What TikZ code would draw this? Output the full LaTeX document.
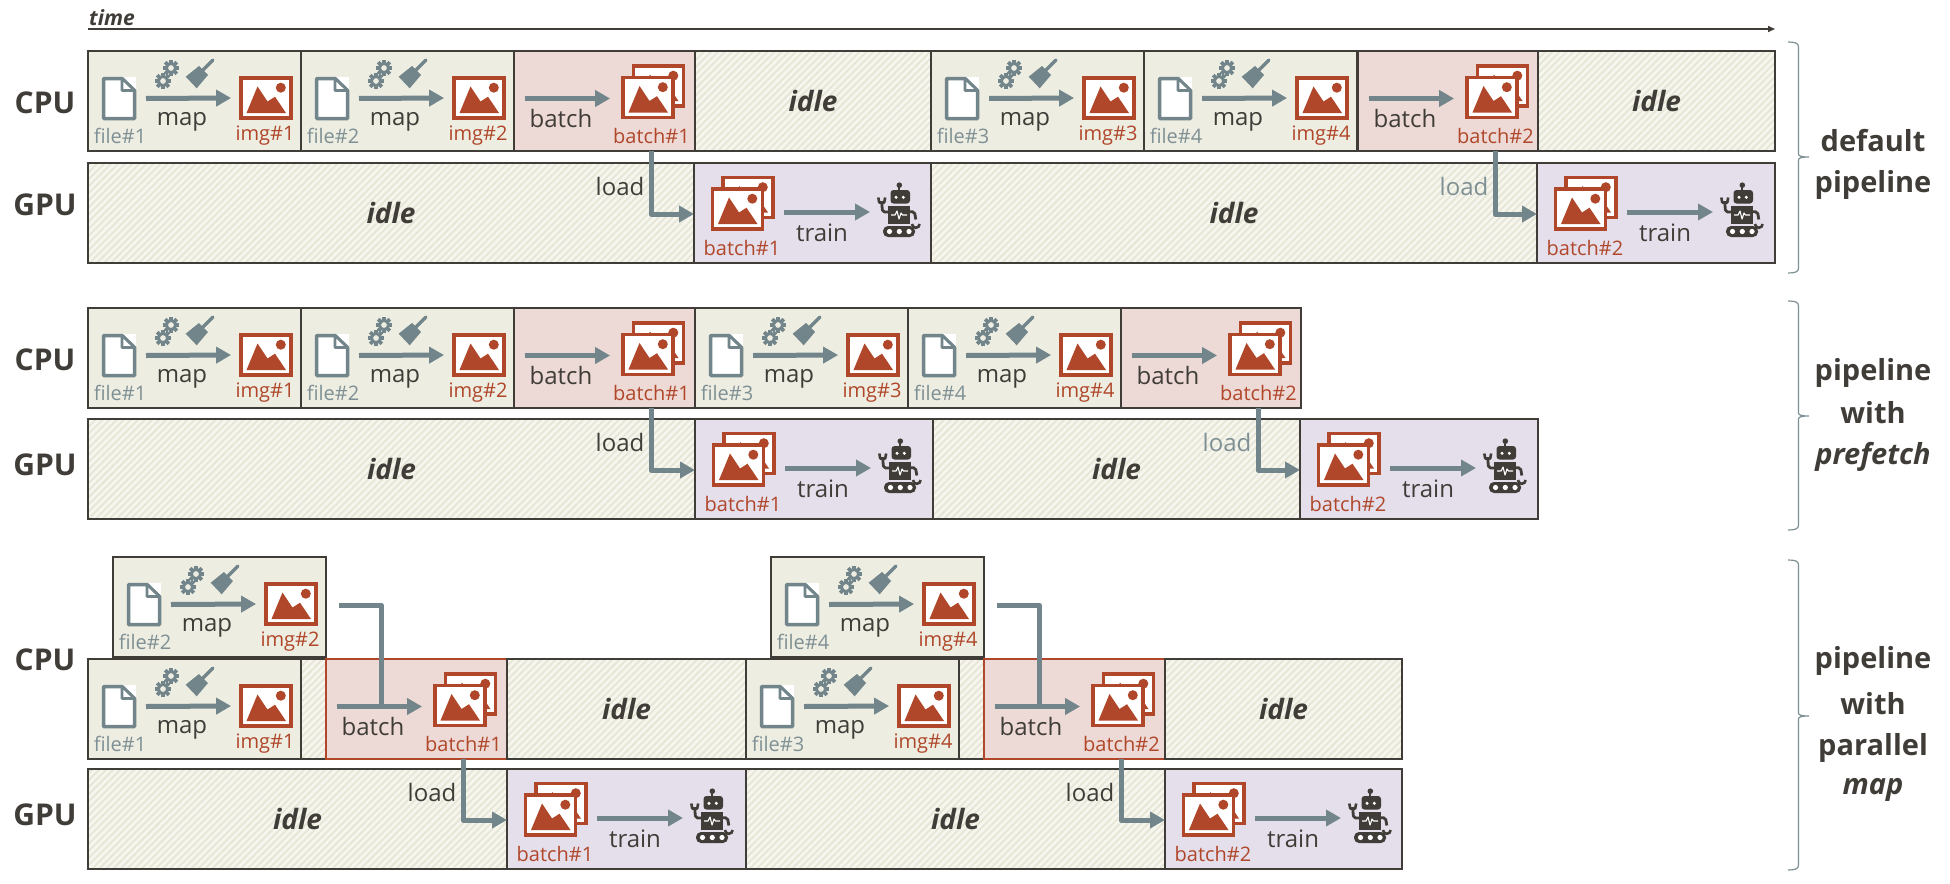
\documentclass[tikz,border=0pt]{standalone}
\usepackage{fontspec}
\setmainfont{Open Sans}
\usetikzlibrary{arrows.meta,patterns.meta,calc}
\definecolor{ink}{HTML}{403D38}
\definecolor{slate}{HTML}{71858A}
\definecolor{slatetxt}{HTML}{7F9094}
\definecolor{rust}{HTML}{B0472A}
\definecolor{mapfill}{HTML}{EDEDE2}
\definecolor{batchfill}{HTML}{EDD9D5}
\definecolor{gpufill}{HTML}{E4DFEB}
\definecolor{idlefill}{HTML}{F6F6EE}
\definecolor{idleline}{HTML}{E6E6D6}
\newcommand{\px}[1]{\fontsize{#1}{#1}\selectfont}
\newcommand{\bedge}{ink}
\tikzset{
  cellbase/.style={rectangle,draw=ink,line width=2pt,inner sep=0pt,outer sep=0pt,anchor=north west,minimum height=#1},
  cellbase/.default=100pt,
  mapcell/.style={cellbase,fill=mapfill},
  batchcell/.style={cellbase,fill=batchfill,draw=\bedge},
  gpucell/.style={cellbase,fill=gpufill},
  idlecell/.style={cellbase,
    preaction={fill=idlefill},
    preaction={pattern={Lines[angle=45,distance=5pt,line width=1.8pt]},pattern color=idleline}},
  word/.style={font=\px{24},text=ink,inner sep=0pt},
  filelab/.style={font=\px{20},text=slatetxt,inner sep=0pt},
  rustlab/.style={font=\px{20},text=rust,inner sep=0pt},
  flow/.style={draw=slate,line width=5pt,-{Triangle[length=15pt,width=16pt]}},
  flowplain/.style={draw=slate,line width=5pt,line join=round},
  hw/.style={font=\bfseries\px{30},text=ink,inner sep=0pt},
  side/.style={font=\bfseries\px{29},text=ink,inner sep=0pt},
  bracket/.style={draw=slatetxt,line width=1.2pt},
  imgframe/.style={rectangle,draw=rust,line width=3.8pt,fill=white,minimum width=50pt,minimum height=40pt,inner sep=0pt,outer sep=1.9pt},
  anchorbox/.style={rectangle,inner sep=0pt,outer sep=0pt,minimum width=34pt,minimum height=44pt},
  mountain/.pic={
    \fill[rust] (-19.5,15) -- (-8.5,-11.5) -- (1.5,3.5) -- (9,-1.3) -- (20,15) -- cycle;
    \fill[rust] (14.8,-10.3) circle (5);
  },
  fileicon/.pic={
    \fill[white] (2,-21.5) rectangle (17,-6);
    \draw[slate,line width=3.5pt,fill=white,line join=round] (-15.5,-20) -- (3,-20) -- (15.5,-8) -- (15.5,20) -- (-15.5,20) -- cycle;
    \draw[slate,line width=2.6pt,fill=white,line join=round] (3,-20) -- (3,-8) -- (15.5,-8) -- cycle;
  },
  gearicon/.pic={
    \foreach \a in {0,45,...,315}{\fill[slate,rotate=\a] (-1.9,-5) rectangle (1.9,-8.3);}
    \draw[slate,line width=3pt] (0,0) circle (4.6);
  },
  tools/.pic={
    \pic at (83,17) {gearicon};
    \pic at (75,30) {gearicon};
    \fill[slate,line join=round] (97.7,25.7) -- (111,15) -- (120,24) -- (108.7,37.3) -- cycle;
    \draw[slate,line width=3.4pt,line cap=round] (114,20) -- (125,9);
  },
  robot/.pic={
    \fill[ink] (22.3,2.2) circle (2.8);
    \draw[ink,line width=1.8pt] (22.3,2.2) -- (22.3,8);
    \fill[ink,rounded corners=3pt] (13.5,7) rectangle (33,20.5);
    \fill[white] (19,14.3) circle (1.7) (26.3,14.3) circle (1.7);
    \fill[ink] (11,23) rectangle (33,41);
    \draw[white,line width=1.1pt,line join=round] (14,32) -- (18,32) -- (20,28) -- (22,36) -- (24,30) -- (25.5,32) -- (30,32);
    \draw[ink,line width=2.8pt,line join=round,rounded corners=2pt] (11,29) -- (5.5,29) -- (4.7,19);
    \draw[ink,line width=2.6pt,line join=round] (1.3,14.5) -- (2.2,19.5) -- (7.2,19.5) -- (8.2,14.5);
    \draw[ink,line width=2.8pt,line join=round,rounded corners=2pt] (33,28.7) -- (37.5,28.7) -- (38.8,36.5);
    \draw[ink,line width=2.6pt] (35,41) arc[start angle=180,end angle=0,radius=3.8];
    \fill[ink,rounded corners=5pt] (6,43) rectangle (38,54);
    \fill[white] (12.5,48.5) circle (2.6) (22.3,48.5) circle (2.6) (32,48.5) circle (2.6);
  }
}
% name, x, y, file label, image label
\newcommand{\mapbox}[5]{%
  \begin{scope}[shift={(#2,#3)}]
    \node[mapcell,minimum width=213pt] (#1) at (0,0) {};
    \node[anchorbox] (#1f) at (31,47.5) {};
    \pic at (31,47.5) {fileicon};
    \pic at (0,0) {tools};
    \node[imgframe] (#1i) at (178,47) {};
    \pic at (178,47) {mountain};
    \draw[flow] ([xshift=10pt]#1f.east) -- ([xshift=-8pt]#1i.west);
    \node[word] (#1w) at (94,71) {map};
    \node[filelab] (#1l) at (32,84.5) {#4};
    \node[rustlab] (#1m) at (177,85) {#5};
  \end{scope}}
% stack icon: name prefix, centre of front image
\newcommand{\stackicon}[3]{%
  \node[imgframe] (#1b) at (#2+10.5,#3-11.5) {};
  \pic at (#2+10.5,#3-11.5) {mountain};
  \node[imgframe] (#1a) at (#2,#3) {};
  \pic at (#2,#3) {mountain};}
% name, x, y, width, label
\newcommand{\batchbox}[5]{%
  \begin{scope}[shift={(#2,#3)}]
    \node[batchcell,minimum width=#4pt] (#1) at (0,0) {};
    \stackicon{#1}{134}{46.5}
    \coordinate (#1s) at (10.5,47.5);
    \draw[flow] (#1s) -- ([xshift=-11pt]#1a.west |- #1s);
    \node[word] (#1w) at (47,67) {batch};
    \node[rustlab] (#1m) at (137.5,84.5) {#5};
  \end{scope}}
% name, x, y, width, label
\newcommand{\gpubox}[5]{%
  \begin{scope}[shift={(#2,#3)}]
    \node[gpucell,minimum width=#4pt] (#1) at (0,0) {};
    \stackicon{#1}{43.5}{46}
    \coordinate (#1r) at (176,49);
    \draw[flow] ([xshift=20pt]#1a.east |- #1r) -- (#1r);
    \pic at (183,20) {robot};
    \node[word] (#1w) at (128,70) {train};
    \node[rustlab] (#1m) at (48,84.5) {#5};
  \end{scope}}
% name, x, y, x1, text
\newcommand{\idlebox}[5]{%
  \node[idlecell,minimum width={(#4-#2)*1pt}] (#1) at (#2,#3) {};
  \node[font=\bfseries\itshape\px{28},text=ink,inner sep=0pt] (#1t) at (#1.center) {#5};}
% name, batch cell, gpu cell, colour
\newcommand{\loadlink}[4]{%
  \coordinate (#1e) at ([yshift=-1pt]#3.west);
  \draw[flowplain] ([xshift=137pt]#2.south west) -- ([xshift=137pt]#2.south west |- #1e) -- ([xshift=-13pt]#1e);
  \draw[flow] ([xshift=-15pt]#1e) -- (#1e);
  \node[word,text=#4] (#1t) at ($([xshift=106pt]#2.south west |- #3.north)+(0,23)$) {load};}
% top, mid, bottom
\newcommand{\sidebrace}[3]{%
  \coordinate (bt#3) at (1788,#1);
  \coordinate (bb#3) at (1788,#3);
  \coordinate (bm#3) at (1809,#2);
  \draw[bracket] (bt#3) .. controls (1795,#1) and (1798.5,#1+1) .. (1798.5,#1+5)
     -- (1798.5,#2-3) .. controls (1798.5,#2-1) and (1801,#2) .. (bm#3)
     .. controls (1801,#2) and (1798.5,#2+1) .. (1798.5,#2+3)
     -- (1798.5,#3-5) .. controls (1798.5,#3-1) and (1795,#3) .. (bb#3);}
\begin{document}
\begin{tikzpicture}[x=1pt,y=-1pt]
\useasboundingbox[fill=white] (0,0) rectangle (1950,883);
% time axis
\node[font=\bfseries\itshape\px{21},text=ink,inner sep=0pt,anchor=west] (tm) at (89,18) {time};
\coordinate (t0) at (88,29);
\coordinate (t1) at (1775,29);
\draw[ink,line width=1.5pt,-{Triangle[length=7pt,width=6pt]}] (t0) -- (t1);

% ---- default pipeline
\node[hw] (c1) at (45,103) {CPU};
\node[hw] (g1) at (45,205) {GPU};
\mapbox{a1}{88}{51}{file\#1}{img\#1}
\mapbox{a2}{301}{51}{file\#2}{img\#2}
\batchbox{a3}{514}{51}{181}{batch\#1}
\idlebox{a4}{695}{51}{931}{idle}
\mapbox{a5}{931}{51}{file\#3}{img\#3}
\mapbox{a6}{1144}{51}{file\#4}{img\#4}
\batchbox{a7}{1358}{51}{180}{batch\#2}
\idlebox{a8}{1538}{51}{1775}{idle}
\idlebox{b1}{88}{163}{694}{idle}
\gpubox{b2}{694}{163}{237}{batch\#1}
\idlebox{b3}{931}{163}{1537}{idle}
\gpubox{b4}{1537}{163}{238}{batch\#2}
\loadlink{la}{a3}{b2}{ink}
\loadlink{lb}{a7}{b4}{slatetxt}

% ---- pipeline with prefetch
\node[hw] (c2) at (45,360) {CPU};
\node[hw] (g2) at (45,465) {GPU};
\mapbox{d1}{88}{308}{file\#1}{img\#1}
\mapbox{d2}{301}{308}{file\#2}{img\#2}
\batchbox{d3}{514}{308}{181}{batch\#1}
\mapbox{d4}{695}{308}{file\#3}{img\#3}
\mapbox{d5}{908}{308}{file\#4}{img\#4}
\batchbox{d6}{1121}{308}{180}{batch\#2}
\idlebox{e1}{88}{419}{695}{idle}
\gpubox{e2}{695}{419}{238}{batch\#1}
\idlebox{e3}{933}{419}{1300}{idle}
\gpubox{e4}{1300}{419}{238}{batch\#2}
\loadlink{lc}{d3}{e2}{ink}
\loadlink{ld}{d6}{e4}{slatetxt}

% ---- pipeline with parallel map
\node[hw] (c3) at (45,660) {CPU};
\node[hw] (g3) at (45,815) {GPU};
\mapbox{f1}{113}{557}{file\#2}{img\#2}
\mapbox{f2}{771}{557}{file\#4}{img\#4}
\mapbox{h1}{88}{659}{file\#1}{img\#1}
\idlebox{h2}{301}{659}{326}{}
\renewcommand{\bedge}{rust}
\batchbox{h3}{326}{659}{181}{batch\#1}
\idlebox{h4}{507}{659}{746}{idle}
\mapbox{h5}{746}{659}{file\#3}{img\#4}
\idlebox{h6}{959}{659}{984}{}
\batchbox{h7}{984}{659}{181}{batch\#2}
\idlebox{h8}{1165}{659}{1402}{idle}
\idlebox{i1}{88}{769}{507}{idle}
\gpubox{i2}{507}{769}{239}{batch\#1}
\idlebox{i3}{746}{769}{1165}{idle}
\gpubox{i4}{1165}{769}{237}{batch\#2}
\loadlink{le}{h3}{i2}{ink}
\loadlink{lf}{h7}{i4}{ink}
\coordinate (m1) at (339,605);
\coordinate (m2) at (997,605);
\draw[flowplain] (m1) -- ($(m1 -| h3s)+(44.5,0)$) -- ($(h3s)+(44.5,0)$);
\draw[flowplain] (m2) -- ($(m2 -| h7s)+(44.5,0)$) -- ($(h7s)+(44.5,0)$);

% ---- brackets and captions
\sidebrace{42}{157}{273}
\node[side] (s1) at (1873,141) {default};
\node[side] (s2) at (1873,185) {pipeline};
\sidebrace{301}{416}{530}
\node[side] (s3) at (1873,373) {pipeline};
\node[side] (s4) at (1873,413) {with};
\node[side,font=\bfseries\itshape\px{29}] (s5) at (1873,457) {prefetch};
\sidebrace{560}{716}{870}
\node[side] (s6) at (1873,661) {pipeline};
\node[side] (s7) at (1873,704) {with};
\node[side] (s8) at (1873,748) {parallel};
\node[side,font=\bfseries\itshape\px{29}] (s9) at (1873,790) {map};
\end{tikzpicture}
\end{document}
